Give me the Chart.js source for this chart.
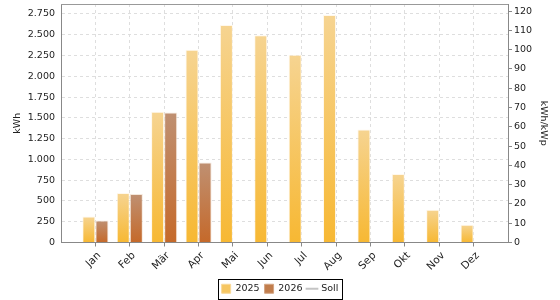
<!DOCTYPE html>
<html><head><meta charset="utf-8">
<script src="https://cdn.jsdelivr.net/npm/chart.js@4/dist/chart.umd.min.js"></script>
<style>html,body{margin:0;padding:0;background:#fff;}</style>
</head><body>
<canvas id="c" width="560" height="300" style="width:560px;height:300px;display:block"></canvas>
<script>
const months = ['Jan','Feb','Mär','Apr','Mai','Jun','Jul','Aug','Sep','Okt','Nov','Dez'];
const yield2025 = [313, 595, 1574, 2320, 2618, 2493, 2260, 2738, 1361, 824, 394, 213];
const yield2026 = [265, 583, 1565, 963, null, null, null, null, null, null, null, null];
const target = [null, null, null, null, null, null, null, null, null, null, null, null];
const seriesNames = ['2025', '2026', 'Soll'];
const kwhMax = 2870;
const kwp = 23.2;

const pad = arr => [null, ...arr, null];
const labels = ['', ...months, ''];
const fmt = v => String(v).replace(/\B(?=(\d{3})+(?!\d))/g, '.');

function gradFill(top, bottom) {
  return (c) => {
    const chart = c.chart;
    if (!chart.chartArea || c.raw == null) return top;
    const y = chart.scales.y;
    const yt = y.getPixelForValue(c.raw), yb = y.getPixelForValue(0);
    if (!isFinite(yt) || yb - yt < 1) return top;
    const g = chart.ctx.createLinearGradient(0, yt, 0, yb);
    g.addColorStop(0, top); g.addColorStop(1, bottom);
    return g;
  };
}

const legendFill = ['#f6c661', '#c17d4c', '#c4c4c4'];
const legendStroke = ['#f8d898', '#d3a584', '#c4c4c4'];

const framePlugin = {
  id: 'frame',
  afterDraw(chart) {
    const {ctx, chartArea, legend} = chart;
    ctx.save();
    ctx.strokeStyle = '#999'; ctx.lineWidth = 1;
    ctx.beginPath();
    const ty = Math.round(chartArea.top) + 0.5;
    ctx.moveTo(chartArea.left, ty); ctx.lineTo(chartArea.right, ty); ctx.stroke();
    const hb = legend && legend.legendHitBoxes;
    if (hb && hb.length) {
      const l = hb[0].left - 4, last = hb[hb.length - 1];
      const r = last.left + last.width + 3;
      const t = hb[0].top - 5, b = hb[0].top + hb[0].height + 5;
      ctx.strokeStyle = '#000';
      ctx.strokeRect(Math.round(l) + 0.5, Math.round(t) + 0.5, Math.round(r - l), Math.round(b - t));
    }
    ctx.restore();
  }
};

Chart.defaults.font.family = 'DejaVu Sans';
Chart.defaults.font.size = 9;
Chart.defaults.color = '#222';

const edge = c => (c.index === 0 || c.index === labels.length - 1);
const noPad = s => { s.paddingTop = 0; s.paddingBottom = 0; };

new Chart(document.getElementById('c'), {
  type: 'bar',
  data: {
    labels: labels,
    datasets: [
      { label: seriesNames[0], data: pad(yield2025), yAxisID: 'y',
        backgroundColor: gradFill('#f6d491', '#f7b833'),
        borderColor: 'rgba(255,246,230,0.75)', borderWidth: {top: 1, left: 1, right: 1, bottom: 0} },
      { label: seriesNames[1], data: pad(yield2026), yAxisID: 'y',
        backgroundColor: gradFill('#bf9072', '#c5692a'),
        borderColor: 'rgba(240,222,205,0.7)', borderWidth: {top: 1, left: 1, right: 1, bottom: 0} },
      { type: 'line', label: seriesNames[2], data: pad(target), yAxisID: 'y',
        borderColor: '#c4c4c4', borderWidth: 2, pointRadius: 0 }
    ]
  },
  options: {
    responsive: false,
    animation: false,
    devicePixelRatio: 1,
    layout: { padding: { left: 0, right: 0, top: 4, bottom: -3.5 } },
    datasets: { bar: { categoryPercentage: 0.76, barPercentage: 1.0 } },
    plugins: {
      tooltip: { enabled: false },
      legend: {
        position: 'bottom',
        labels: {
          usePointStyle: true, boxWidth: 9, boxHeight: 9, padding: 5,
          font: { size: 9.5, family: 'DejaVu Sans' }, color: '#222',
          generateLabels: chart => chart.data.datasets.map((ds, i) => ({
            text: ds.label, fillStyle: legendFill[i], strokeStyle: legendStroke[i],
            lineWidth: i === 2 ? 2 : 1, pointStyle: i === 2 ? 'line' : 'rect',
            datasetIndex: i, hidden: false, fontColor: '#222'
          }))
        }
      }
    },
    scales: {
      x: {
        offset: false,
        grid: { offset: false, color: c => edge(c) ? 'rgba(0,0,0,0)' : '#dedede',
                tickColor: c => edge(c) ? 'rgba(0,0,0,0)' : '#888', tickLength: 4, lineWidth: 1 },
        border: { color: '#888', width: 1, dash: [3, 3] },
        ticks: { minRotation: 45, maxRotation: 45, autoSkip: false, padding: 3, labelOffset: 4, font: { size: 10.5 } },
        afterFit: s => { s.height = 36.5; s.paddingLeft = 0; s.paddingRight = 0; }
      },
      y: {
        position: 'left', min: 0, max: kwhMax,
        grid: { color: '#dedede', drawTicks: false, lineWidth: 1 },
        border: { color: '#888', width: 1, dash: [3, 3] },
        ticks: { stepSize: 250, includeBounds: false, padding: 6, callback: v => fmt(v), font: { size: 9.5 } },
        title: { display: true, text: 'kWh', font: { size: 9.5 }, padding: { top: 11.5, bottom: 4 } },
        afterFit: s => { s.width = 61; noPad(s); }
      },
      y1: {
        position: 'right', min: 0, max: kwhMax / kwp,
        grid: { drawOnChartArea: false, drawTicks: true, tickLength: 4, tickColor: '#888' },
        border: { color: '#888', width: 1 },
        ticks: { stepSize: 10, includeBounds: false, padding: 2, callback: v => fmt(v), font: { size: 9.5 } },
        title: { display: true, text: 'kWh/kWp', font: { size: 9.5 }, padding: { top: 11, bottom: 4 } },
        afterFit: s => { s.width = 52; noPad(s); }
      }
    }
  },
  plugins: [framePlugin]
});
</script>
</body></html>
